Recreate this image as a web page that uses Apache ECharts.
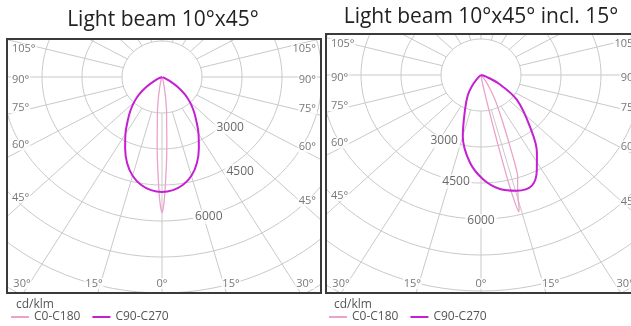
<!DOCTYPE html>
<html>
<head>
<meta charset="utf-8">
<script src="https://cdn.jsdelivr.net/npm/echarts@6/dist/echarts.min.js"></script>
<style>
  html, body { margin: 0; padding: 0; background: #fff; }
  #chart { width: 631px; height: 326px; }
</style>
</head>
<body>
<div id="chart"></div>
<script>
// polar grid, intensities in cd/klm, angles in degrees from nadir (0° = down)
var ringValues = [1500, 3000, 4500, 6000, 7500, 9000, 10500, 12000];
var spokeAngles = [0, 15, 30, 45, 60, 75, 90, 105, 120, 135, 150, 165, 180, 195, 210, 225, 240, 255, 270, 285, 300, 315, 330, 345];
var edgeLabelAngles = [-105, -90, -75, -60, -45, -30, -15, 0, 15, 30, 45, 60, 75, 90, 105];
var ringLabelValues = [3000, 4500, 6000];

// Light beam 10°x45°
var straightC0Angles = [-30, -20, -15, -12, -10, -9, -8, -7, -6, -5, -4, -3, -2, -1, 0, 1, 2, 3, 4, 5, 6, 7, 8, 9, 10, 12, 15, 20, 30];
var straightC0Values = [0, 50, 150, 350, 630, 850, 1100, 1400, 1650, 2000, 2600, 3350, 4130, 5100, 5660, 5100, 4130, 3350, 2600, 2000, 1650, 1400, 1100, 850, 630, 350, 150, 50, 0];
var straightC90Angles = [-75, -70, -65, -60, -55, -50, -45, -40, -35, -30, -25, -20, -15, -10, -5, 0, 5, 10, 15, 20, 25, 30, 35, 40, 45, 50, 55, 60, 65, 70, 75];
var straightC90Values = [0, 20, 120, 360, 720, 1120, 1480, 1850, 2250, 2740, 3270, 3820, 4260, 4560, 4730, 4790, 4730, 4560, 4260, 3820, 3270, 2740, 2250, 1850, 1480, 1120, 720, 360, 120, 20, 0];
var straightRingLabelAngles = [51, 37, 17];

// Light beam 10°x45° incl. 15°
var tiltedC0Angles = [5, 8, 10, 11, 12, 12.5, 13, 13.5, 14, 14.5, 15, 16, 17, 18, 19, 20, 21, 23, 25, 27, 30, 35, 40, 45];
var tiltedC0Values = [0, 150, 500, 1000, 2200, 3300, 4700, 5500, 5880, 5700, 5400, 5000, 4700, 4450, 3900, 3200, 2700, 2000, 1500, 1150, 700, 300, 100, 0];
var tiltedC90Angles = [-55, -45, -36, -30, -22.5, -15, -6.5, 1, 8.5, 15.5, 22.5, 28, 33, 40.5, 52.5, 62, 70, 78];
var tiltedC90Values = [0, 150, 600, 1000, 1570, 2640, 3670, 4340, 4800, 5000, 4990, 4460, 3850, 2820, 1690, 730, 200, 0];
var tiltedRingLabelAngles = [-29, -12, 0];

var KX = 40 / 1500;   // px per cd/klm across (the drawing is a bit wider than tall)
var KY = 36 / 1500;   // px per cd/klm down
var FONT = 'Open Sans';
var C0_COLOR = '#eaa2cc';
var C90_COLOR = '#c51fd2';
var PAGE_W = 631;

var panels = [
  { title: 'Light beam 10°x45°', titleX: 158, titleY: 5, box: [8, 40, 320, 292], cx: 162, cy: 77,
    c0: [straightC0Angles, straightC0Values], c90: [straightC90Angles, straightC90Values],
    ringLabelAngles: straightRingLabelAngles, ringLabelNudge: [[6, 5], [6, 8], [0, 2]], legendX: 10 },
  { title: 'Light beam 10°x45° incl. 15°', titleX: 476, titleY: 2, box: [327, 35, 642, 292], cx: 481, cy: 75,
    c0: [tiltedC0Angles, tiltedC0Values], c90: [tiltedC90Angles, tiltedC90Values],
    ringLabelAngles: tiltedRingLabelAngles, ringLabelNudge: [[2, 3], [0, 1], [0, 2]], legendX: 328 }
];

function toXY(v, deg) {
  var a = deg * Math.PI / 180;
  return [v * Math.sin(a), -v * Math.cos(a)];
}

function curve(pair) {
  return pair[0].map(function (a, i) { return toXY(pair[1][i], a); });
}

// where a spoke leaves the framed box, in pixels from the centre
function edgeLabels(p) {
  var L = p.box[0] - p.cx, R = p.box[2] - p.cx, T = p.box[1] - p.cy, B = p.box[3] - p.cy;
  return edgeLabelAngles.map(function (deg) {
    var a = deg * Math.PI / 180;
    var dx = Math.sin(a) * KX, dy = Math.cos(a) * KY;
    var t = Infinity, edge = '';
    if (dx > 1e-9 && R / dx < t) { t = R / dx; edge = 'right'; }
    if (dx < -1e-9 && L / dx < t) { t = L / dx; edge = 'left'; }
    if (dy > 1e-9 && B / dy < t) { t = B / dy; edge = 'bottom'; }
    if (dy < -1e-9 && T / dy < t) { t = T / dy; edge = 'left'; }
    var px = t * dx, py = t * dy, label;
    if (edge === 'bottom') {
      px += deg === 0 ? 0 : (deg > 0 ? 5 : -4);
      py = B - 3;
      label = { align: 'center', verticalAlign: 'bottom' };
      px = Math.max(L + 14, Math.min(R - 14, px));
    } else {
      var side = px < 0 ? -1 : 1;
      px = side < 0 ? L + 3 : R - 3;
      py = Math.max(T + 9, py - (Math.abs(deg) < 90 ? (90 - Math.abs(deg)) * 0.4 : -3));
      label = { align: side < 0 ? 'left' : 'right', verticalAlign: 'middle' };
    }
    return { value: [px / KX, -py / KY], name: Math.abs(deg) + '°', label: label };
  });
}

var option = {
  animation: false,
  textStyle: { fontFamily: FONT },
  title: [],
  legend: [],
  grid: [],
  xAxis: [],
  yAxis: [],
  series: [],
  graphic: []
};

panels.forEach(function (p, k) {
  var right = Math.min(p.box[2], PAGE_W);
  option.title.push({
    text: p.title, left: p.titleX, top: p.titleY, textAlign: 'center',
    textStyle: { fontFamily: FONT, fontSize: 21, fontWeight: 'normal', color: '#222' }
  });
  option.title.push({
    text: 'cd/klm', left: p.legendX + 1, top: 294,
    textStyle: { fontFamily: FONT, fontSize: 12, fontWeight: 'normal', color: '#555' }
  });
  option.legend.push({
    data: ['C0-C180', 'C90-C270'], left: p.legendX, top: 311, padding: 0,
    itemWidth: 18, itemHeight: 10, itemGap: 11,
    itemStyle: { opacity: 0 },
    textStyle: { fontFamily: FONT, fontSize: 12, color: '#555' }
  });
  option.grid.push({
    left: p.box[0], top: p.box[1], width: right - p.box[0], height: p.box[3] - p.box[1],
    outerBoundsMode: 'none'
  });
  option.xAxis.push({
    type: 'value', gridIndex: k, show: false,
    min: (p.box[0] - p.cx) / KX, max: (right - p.cx) / KX
  });
  option.yAxis.push({
    type: 'value', gridIndex: k, show: false,
    min: -(p.box[3] - p.cy) / KY, max: (p.cy - p.box[1]) / KY
  });

  ringValues.forEach(function (v) {
    var pts = [];
    for (var a = 0; a <= 360; a += 3) pts.push(toXY(v, a));
    option.series.push({
      type: 'line', xAxisIndex: k, yAxisIndex: k, data: pts, symbol: 'none', silent: true,
      lineStyle: { color: '#c9c9c9', width: 1 }, z: 1
    });
  });
  spokeAngles.forEach(function (a) {
    option.series.push({
      type: 'line', xAxisIndex: k, yAxisIndex: k, data: [toXY(1500, a), toXY(20000, a)],
      symbol: 'none', silent: true, lineStyle: { color: '#c9c9c9', width: 1 }, z: 1
    });
  });

  option.series.push({
    name: 'C0-C180', type: 'line', xAxisIndex: k, yAxisIndex: k, data: curve(p.c0),
    symbol: 'none', smooth: 0.25, lineStyle: { color: C0_COLOR, width: 1.3 }, itemStyle: { color: C0_COLOR }, z: 3
  });
  option.series.push({
    name: 'C90-C270', type: 'line', xAxisIndex: k, yAxisIndex: k, data: curve(p.c90),
    symbol: 'none', smooth: 0.35, lineStyle: { color: C90_COLOR, width: 2 }, itemStyle: { color: C90_COLOR }, z: 4
  });

  option.series.push({
    type: 'scatter', xAxisIndex: k, yAxisIndex: k, silent: true, clip: false, symbolSize: 1,
    itemStyle: { color: 'rgba(0,0,0,0)' }, z: 5,
    data: ringLabelValues.map(function (v, i) {
      return { value: toXY(v, p.ringLabelAngles[i]), name: String(v), label: { offset: p.ringLabelNudge[i] } };
    }),
    label: {
      show: true, position: 'inside', formatter: '{b}', fontFamily: FONT, fontSize: 12,
      color: '#444', backgroundColor: '#fff', padding: [1, 2]
    }
  });
  option.series.push({
    type: 'scatter', xAxisIndex: k, yAxisIndex: k, silent: true, clip: false, symbolSize: 1,
    itemStyle: { color: 'rgba(0,0,0,0)' }, z: 5,
    data: edgeLabels(p),
    label: {
      show: true, position: 'inside', formatter: '{b}', fontFamily: FONT, fontSize: 11,
      color: '#555', backgroundColor: '#fff', padding: [0, 1]
    }
  });

  option.graphic.push({
    type: 'rect', z: 100, silent: true,
    shape: { x: p.box[0] - 1, y: p.box[1] - 1, width: p.box[2] - p.box[0] + 2, height: p.box[3] - p.box[1] + 2 },
    style: { fill: 'none', stroke: '#3a3a3a', lineWidth: 2 }
  });
});

var chart = echarts.init(document.getElementById('chart'));
chart.setOption(option);
</script>
</body>
</html>
